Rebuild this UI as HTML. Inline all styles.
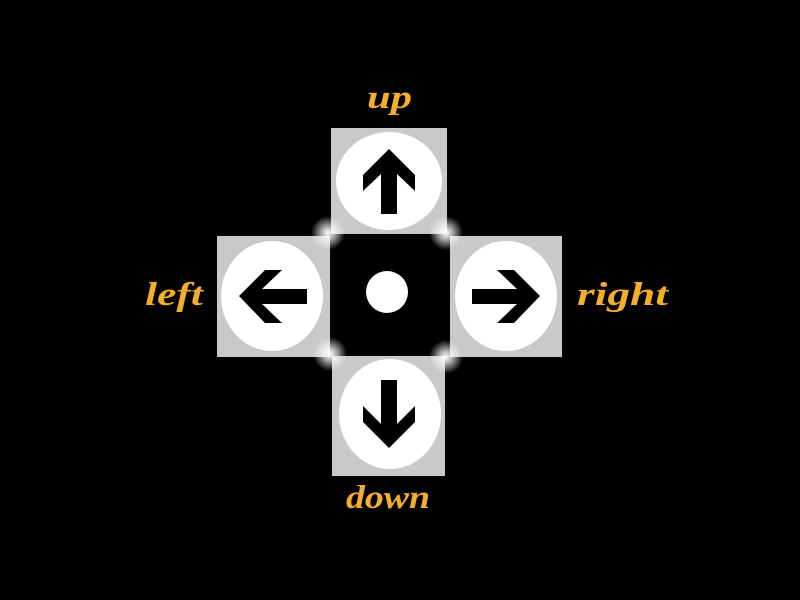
<!DOCTYPE html>
<html><head><meta charset="utf-8"><style>
html,body{margin:0;padding:0;background:#000;width:800px;height:600px;overflow:hidden}
svg{display:block}
text{font-family:"Liberation Serif","DejaVu Serif",serif;font-weight:bold;font-style:italic;fill:#f4ae2c;font-size:33px}
</style></head><body>
<svg width="800" height="600" viewBox="0 0 800 600">
<defs>
<radialGradient id="glow"><stop offset="0" stop-color="#fff" stop-opacity="1"/><stop offset="0.35" stop-color="#fff" stop-opacity="0.7"/><stop offset="1" stop-color="#fff" stop-opacity="0"/></radialGradient>
</defs>
<rect x="0" y="0" width="800" height="600" fill="#000"/>
<g>
<rect x="331" y="128" width="116" height="106" fill="#c8c9c8"/>
<ellipse cx="389" cy="181" rx="53" ry="49" fill="#fff"/>
<polygon points="389,149 415,175 415,191 397,174 397,214 381,214 381,174 363,191 363,175" fill="#000"/>
</g>
<g>
<rect x="217" y="236" width="113" height="121" fill="#c8c9c8"/>
<ellipse cx="272" cy="296" rx="51" ry="55" fill="#fff"/>
<polygon points="239,296 265,270 282,270 262,289 307,289 307,304 262,304 282,323 265,323" fill="#000"/>
</g>
<g>
<rect x="450" y="236" width="112" height="121" fill="#c8c9c8"/>
<ellipse cx="506" cy="296" rx="51" ry="55" fill="#fff"/>
<polygon points="540,296 514,270 497,270 517,289 472,289 472,304 517,304 497,323 514,323" fill="#000"/>
</g>
<g>
<rect x="332" y="356" width="113" height="120" fill="#c8c9c8"/>
<ellipse cx="390" cy="414" rx="51" ry="55" fill="#fff"/>
<polygon points="389,448 363,422 363,406 381,424 381,380 397,380 397,424 415,406 415,422" fill="#000"/>
</g>
<g>
<rect x="330" y="234" width="120" height="122" fill="#000"/>
<circle cx="387" cy="292" r="21" fill="#fff"/>
</g>
<g>
<circle cx="328" cy="233" r="17" fill="url(#glow)"/>
<circle cx="446" cy="233" r="17" fill="url(#glow)"/>
<circle cx="330" cy="354" r="17" fill="url(#glow)"/>
<circle cx="446" cy="357" r="17" fill="url(#glow)"/>
</g>
<text x="367" y="108" textLength="45" lengthAdjust="spacingAndGlyphs">up</text>
<text x="145" y="305" textLength="58" lengthAdjust="spacingAndGlyphs">left</text>
<text x="577" y="305" textLength="91" lengthAdjust="spacingAndGlyphs">right</text>
<text x="346" y="508" textLength="84" lengthAdjust="spacingAndGlyphs">down</text>
</svg>
</body></html>
